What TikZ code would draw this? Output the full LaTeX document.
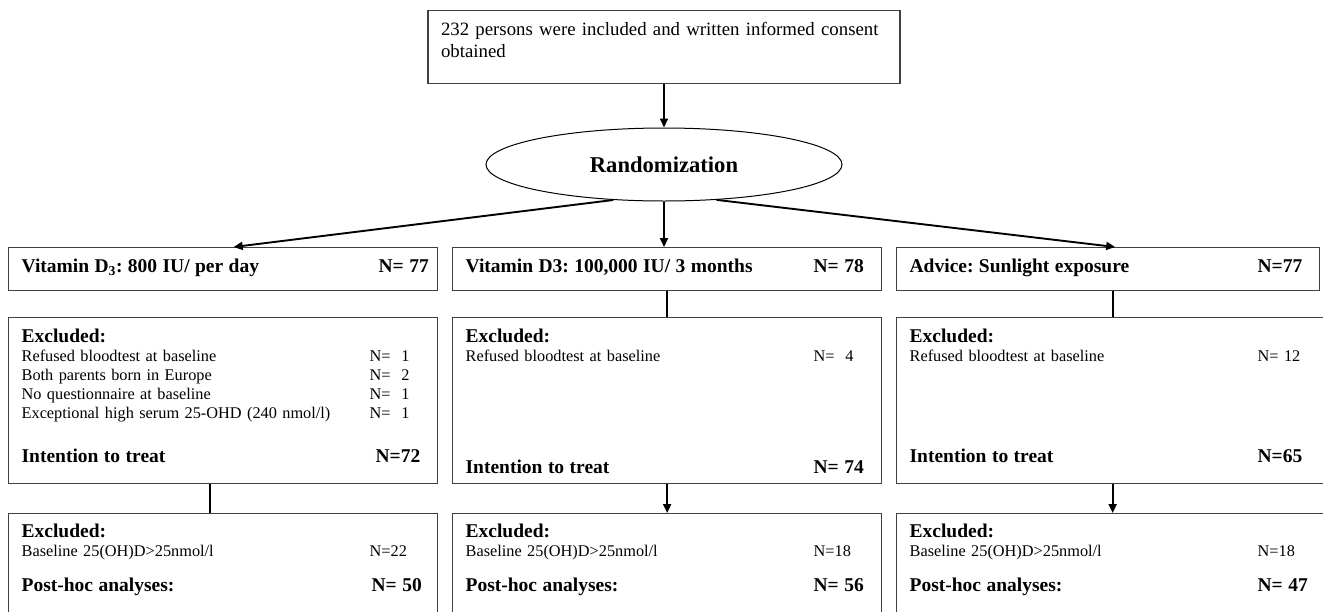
\documentclass[tikz,border=0pt]{standalone}
\usepackage{fontspec}
\setmainfont{Liberation Serif}
\usetikzlibrary{arrows.meta,shapes.geometric}

\newcommand{\headfont}{\fontsize{19.5}{19}\selectfont\bfseries}
\newcommand{\itemfont}{\fontsize{16.3}{19}\selectfont}
\newcommand{\cntrow}[3][348pt]{\mbox{\makebox[#1][l]{#2}{#3}}\par}
\AtBeginDocument{\frenchspacing}

\colorlet{boxgray}{black!75}
\tikzset{
	box/.style={draw=boxgray, line width=1.3pt, rectangle, anchor=north west,
		inner xsep=13pt, inner ysep=0pt, font=\itemfont},
	conn/.style={line width=1.9pt},
	arr/.style={conn, -{Triangle[length=9pt,width=8pt]}},
}

\begin{document}
\begin{tikzpicture}[x=1pt, y=-1pt]
	\useasboundingbox (0,0) rectangle (1323,611);
	\fill[white] (0,0) rectangle (1323,611);
	\clip (0,0) rectangle (1323,611);
	
	% top and randomization
	\node[box, anchor=north, text width=446pt, text height=25pt, text depth=48pt,
		font=\fontsize{18.8}{22}\selectfont] (cons) at (664,10)
		{\mbox{232 persons were included and written informed consent}\\obtained};
	\node[ellipse, draw, line width=1pt, minimum width=356pt, minimum height=73pt,
		inner sep=0pt, font=\fontsize{22.6}{26}\selectfont\bfseries] (rand) at (664,164.5) {Randomization};
	
	% groups
	\node[box, text width=403pt, text height=25pt, text depth=18pt] (vd1) at (8,247)
		{\headfont\cntrow[357pt]{Vitamin D\textsubscript{3}: 800 IU/ per day}{N= 77}};
	\node[box, text width=403pt, text height=25pt, text depth=18pt] (vd2) at (452,247)
		{\headfont\cntrow{Vitamin D3: 100,000 IU/ 3 months}{N= 78}};
	\node[box, text width=397pt, text height=25pt, text depth=18pt] (vd3) at (896,247)
		{\headfont\cntrow{Advice: Sunlight exposure}{N=77}};
	
	% excluded at baseline
	\node[box, text width=403pt, text height=25pt, text depth=141pt] (ex1) at (8,317) {
		\cntrow{\headfont Excluded:}{}
		\cntrow{Refused bloodtest at baseline}{N=\ \ 1}
		\cntrow{Both parents born in Europe}{N=\ \ 2}
		\cntrow{No questionnaire at baseline}{N=\ \ 1}
		\cntrow{Exceptional high serum 25-OHD (240 nmol/l)}{N=\ \ 1}
		\vspace{25pt}
		\cntrow[354pt]{\headfont Intention to treat}{\headfont N=72}};
	\node[box, text width=403pt, text height=25pt, text depth=141pt] (ex2) at (452,317) {
		\cntrow{\headfont Excluded:}{}
		\cntrow{Refused bloodtest at baseline}{N=\ \ 4}
		\vspace{93pt}
		\cntrow{\headfont Intention to treat}{\headfont N= 74}};
	\node[box, text width=406pt, text height=25pt, text depth=141pt] (ex3) at (896,317) {
		\cntrow{\headfont Excluded:}{}
		\cntrow{Refused bloodtest at baseline}{N= 12}
		\vspace{82pt}
		\cntrow{\headfont Intention to treat}{\headfont N=65}};
	
	% post-hoc
	\node[box, text width=403pt, text height=24pt, text depth=110pt] (ph1) at (8,513) {
		\cntrow{\headfont Excluded:}{}
		\cntrow{Baseline 25(OH)D>25nmol/l}{N=22}
		\vspace{16pt}
		\cntrow[350pt]{\headfont Post-hoc analyses:}{\headfont N= 50}};
	\node[box, text width=403pt, text height=24pt, text depth=110pt] (ph2) at (452,513) {
		\cntrow{\headfont Excluded:}{}
		\cntrow{Baseline 25(OH)D>25nmol/l}{N=18}
		\vspace{16pt}
		\cntrow{\headfont Post-hoc analyses:}{\headfont N= 56}};
	\node[box, text width=406pt, text height=24pt, text depth=110pt] (ph3) at (896,513) {
		\cntrow{\headfont Excluded:}{}
		\cntrow{Baseline 25(OH)D>25nmol/l}{N=18}
		\vspace{16pt}
		\cntrow{\headfont Post-hoc analyses:}{\headfont N= 47}};
	
	% connectors
	\draw[arr] (cons.south) -- (rand.north);
	\draw[arr] (rand.215) -- ([xshift=10.5pt]vd1.north);
	\draw[arr] (rand.south) -- (rand.south |- vd2.north);
	\draw[arr] (rand.326) -- ([xshift=7pt]vd3.north);
	
	\draw[conn] (vd2.south) -- (ex2.north);
	\draw[conn] (ex3.north |- vd3.south) -- (ex3.north);
	
	\draw[conn] ([xshift=-13.5pt]ex1.south) -- ([xshift=-13.5pt]ex1.south |- ph1.north);
	\draw[arr] (ex2.south) -- (ph2.north);
	\draw[arr] (ex3.south) -- (ph3.north);
\end{tikzpicture}
\end{document}
